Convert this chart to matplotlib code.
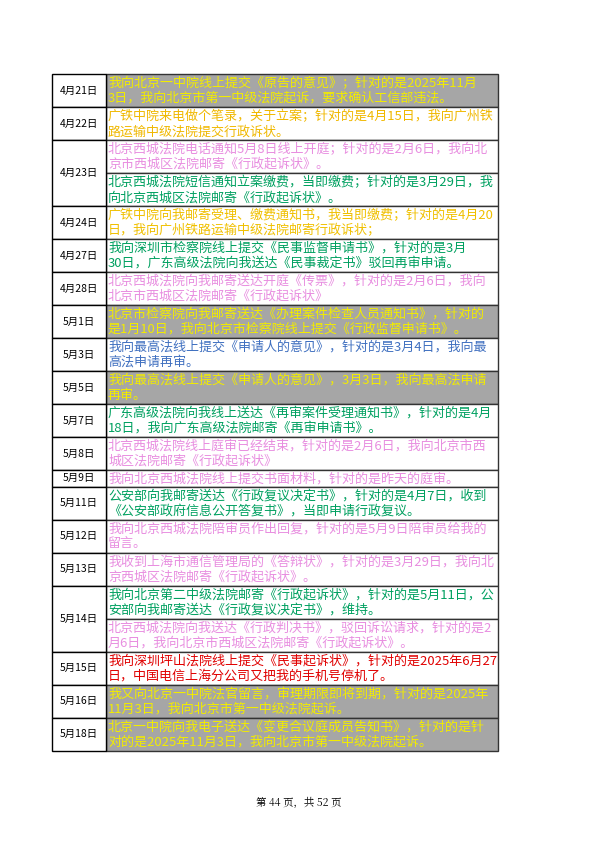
import matplotlib
matplotlib.use("Agg")
import matplotlib.pyplot as plt
from matplotlib.patches import Rectangle

plt.rcParams['font.family'] = ['Noto Sans CJK SC', 'DejaVu Sans']

# one entry per sub-row; date repeated for merged rows
dates = ["4月21日", "4月22日", "4月23日", "4月23日", "4月24日", "4月27日", "4月28日",
         "5月1日", "5月3日", "5月5日", "5月7日", "5月8日", "5月9日", "5月11日",
         "5月12日", "5月13日", "5月14日", "5月14日", "5月15日", "5月16日", "5月18日"]
entries = [
    "我向北京一中院线上提交《原告的意见》；针对的是2025年11月\n3日，我向北京市第一中级法院起诉，要求确认工信部违法。",
    "广铁中院来电做个笔录，关于立案；针对的是4月15日，我向广州铁\n路运输中级法院提交行政诉状。",
    "北京西城法院电话通知5月8日线上开庭；针对的是2月6日，我向北\n京市西城区法院邮寄《行政起诉状》。",
    "北京西城法院短信通知立案缴费，当即缴费；针对的是3月29日，我\n向北京西城区法院邮寄《行政起诉状》。",
    "广铁中院向我邮寄受理、缴费通知书，我当即缴费；针对的是4月20\n日，我向广州铁路运输中级法院邮寄行政诉状；",
    "我向深圳市检察院线上提交《民事监督申请书》，针对的是3月\n30日，广东高级法院向我送达《民事裁定书》驳回再审申请。",
    "北京西城法院向我邮寄送达开庭《传票》，针对的是2月6日，我向\n北京市西城区法院邮寄《行政起诉状》",
    "北京市检察院向我邮寄送达《办理案件检查人员通知书》，针对的\n是1月10日，我向北京市检察院线上提交《行政监督申请书》。",
    "我向最高法线上提交《申请人的意见》，针对的是3月4日，我向最\n高法申请再审。",
    "我向最高法线上提交《申请人的意见》，3月3日，我向最高法申请\n再审。",
    "广东高级法院向我线上送达《再审案件受理通知书》，针对的是4月\n18日，我向广东高级法院邮寄《再审申请书》。",
    "北京西城法院线上庭审已经结束，针对的是2月6日，我向北京市西\n城区法院邮寄《行政起诉状》",
    "我向北京西城法院线上提交书面材料，针对的是昨天的庭审。",
    "公安部向我邮寄送达《行政复议决定书》，针对的是4月7日，收到\n《公安部政府信息公开答复书》，当即申请行政复议。",
    "我向北京西城法院陪审员作出回复，针对的是5月9日陪审员给我的\n留言。",
    "我收到上海市通信管理局的《答辩状》，针对的是3月29日，我向北\n京西城区法院邮寄《行政起诉状》。",
    "我向北京第二中级法院邮寄《行政起诉状》，针对的是5月11日，公\n安部向我邮寄送达《行政复议决定书》，维持。",
    "北京西城法院向我送达《行政判决书》，驳回诉讼请求，针对的是2\n月6日，我向北京市西城区法院邮寄《行政起诉状》。",
    "我向深圳坪山法院线上提交《民事起诉状》，针对的是2025年6月27\n日，中国电信上海分公司又把我的手机号停机了。",
    "我又向北京一中院法官留言，审理期限即将到期，针对的是2025年\n11月3日，我向北京市第一中级法院起诉。",
    "北京一中院向我电子送达《变更合议庭成员告知书》，针对的是针\n对的是2025年11月3日，我向北京市第一中级法院起诉。",
]
text_colors = ["#F2EC00", "#F0B800", "#E88EE0", "#00A060", "#F0C000", "#00A060", "#E88EE0",
               "#F2EC00", "#4070C0", "#F2EC00", "#00A060", "#E88EE0", "#E88EE0", "#00A060",
               "#E88EE0", "#E88EE0", "#00A060", "#E88EE0", "#E00000", "#F2EC00", "#F2EC00"]
gray_bg = [True, False, False, False, False, False, False,
           True, False, True, False, False, False, False,
           False, False, False, False, False, True, True]

x0, x1, x2 = 52, 106, 498
y = 74
line_h = 16.5

fig = plt.figure(figsize=(5.99, 8.48), dpi=100)
ax = fig.add_axes([0, 0, 1, 1])
ax.set_xlim(0, 599)
ax.set_ylim(848, 0)
ax.axis("off")

tops = []
for txt, col, bg in zip(entries, text_colors, gray_bg):
    h = line_h * (txt.count("\n") + 1)
    tops.append((y, h))
    ax.add_patch(Rectangle((x1, y), x2 - x1, h, facecolor="#A6A6A6" if bg else "white",
                           edgecolor="#333333", lw=1.0))
    ax.text(x1 + 2, y + h / 2 + 0.5, txt, color=col, fontsize=9.4, va="center", ha="left",
            linespacing=1.2)
    y += h

# date cells, merged where the same date repeats
i = 0
while i < len(dates):
    j = i
    while j + 1 < len(dates) and dates[j + 1] == dates[i]:
        j += 1
    top = tops[i][0]
    bot = tops[j][0] + tops[j][1]
    ax.add_patch(Rectangle((x0, top), x1 - x0, bot - top, facecolor="white",
                           edgecolor="black", lw=1.0))
    ax.text((x0 + x1) / 2, (top + bot) / 2, dates[i], fontsize=7.5, ha="center", va="center")
    i = j + 1

ax.text(299, 803, "第 44 页，共 52 页", fontsize=7.5, ha="center", va="center",
        family=["Noto Serif CJK SC", "Noto Sans CJK SC", "DejaVu Sans"])

fig.savefig("out.png", dpi=100)
